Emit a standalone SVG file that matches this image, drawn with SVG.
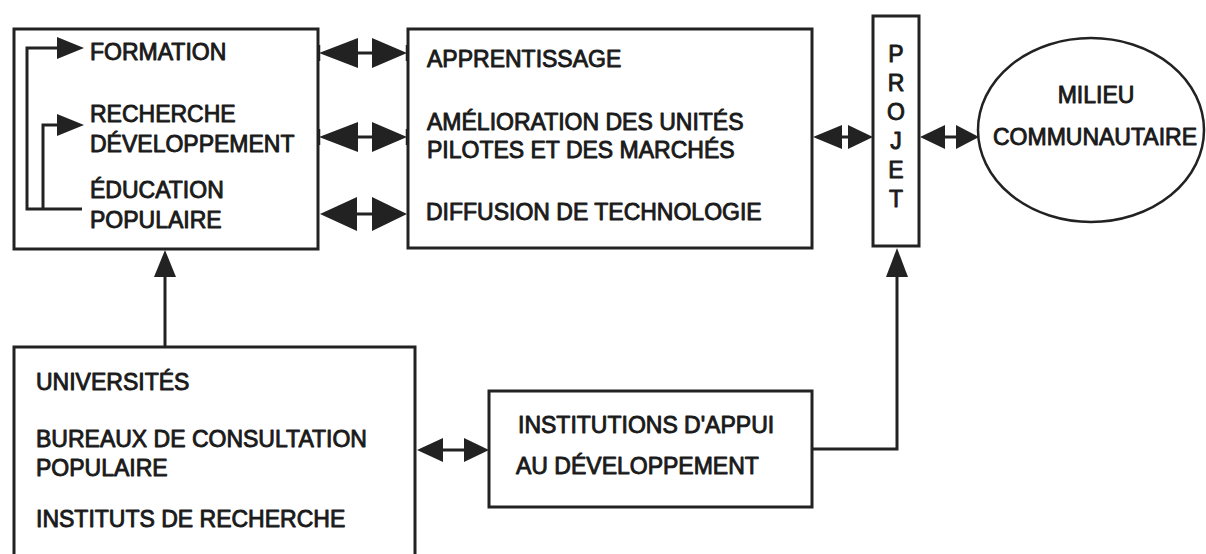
<svg xmlns="http://www.w3.org/2000/svg" width="1206" height="554" viewBox="0 0 1206 554">
<style>
.box{fill:#fff;stroke:#222;stroke-width:3}
.ell{fill:#fff;stroke:#222;stroke-width:2.5}
.ln{fill:none;stroke:#222;stroke-width:3}
.ah{fill:#222;stroke:none}
.tk{stroke:#222;stroke-width:2.5}
text{font-family:"Liberation Sans",Arial,Helvetica,sans-serif;font-size:23px;fill:#1a1a1a;stroke:#1a1a1a;stroke-width:0.9;stroke-linejoin:round}
.c{text-anchor:middle}
</style>
<rect width="1206" height="554" fill="#fff"/>
<g id="activites">
<rect class="box" x="14" y="29" width="304" height="220"/>
<text x="90" y="60">FORMATION</text>
<text x="90" y="122">RECHERCHE</text>
<text x="90" y="152">DÉVELOPPEMENT</text>
<text x="90" y="198">ÉDUCATION</text>
<text x="90" y="228">POPULAIRE</text>
</g>
<g id="resultats">
<rect class="box" x="408" y="29" width="404" height="219"/>
<text x="427" y="67">APPRENTISSAGE</text>
<text x="427" y="130">AMÉLIORATION DES UNITÉS</text>
<text x="427" y="158">PILOTES ET DES MARCHÉS</text>
<text x="426" y="220">DIFFUSION DE TECHNOLOGIE</text>
</g>
<g id="projet">
<rect class="box" x="873" y="16" width="46" height="230"/>
<text class="c" x="896" y="62">P</text>
<text class="c" x="896" y="91">R</text>
<text class="c" x="896" y="120">O</text>
<text class="c" x="896" y="149">J</text>
<text class="c" x="896" y="178">E</text>
<text class="c" x="896" y="207">T</text>
</g>
<g id="milieu">
<ellipse class="ell" cx="1091" cy="130" rx="113" ry="92"/>
<text class="c" x="1096" y="103">MILIEU</text>
<text class="c" x="1095" y="145">COMMUNAUTAIRE</text>
</g>
<g id="sources">
<rect class="box" x="14" y="347" width="401" height="220"/>
<text x="36" y="390">UNIVERSITÉS</text>
<text x="36" y="447">BUREAUX DE CONSULTATION</text>
<text x="36" y="476">POPULAIRE</text>
<text x="36" y="527">INSTITUTS DE RECHERCHE</text>
</g>
<g id="institutions">
<rect class="box" x="489" y="391" width="323" height="116"/>
<text x="518" y="433">INSTITUTIONS D'APPUI</text>
<text x="516" y="474">AU DÉVELOPPEMENT</text>
</g>
<g id="connectors">
<polyline class="ln" points="82,209 27,209 27,48 60,48"/>
<polygon class="ah" points="84,48 57,37 57,59"/>
<polyline class="ln" points="43,209 43,125 60,125"/>
<polygon class="ah" points="84,125 57,114 57,136"/>
<line class="ln" x1="350" y1="53" x2="380" y2="53"/>
<polygon class="ah" points="319,53 358,38 358,68"/>
<polygon class="ah" points="407,53 372,38 372,68"/>
<line class="tk" x1="319" y1="45" x2="319" y2="61"/>
<line class="tk" x1="407" y1="45" x2="407" y2="61"/>
<line class="ln" x1="350" y1="137" x2="380" y2="137"/>
<polygon class="ah" points="319,137 358,122 358,152"/>
<polygon class="ah" points="407,137 372,122 372,152"/>
<line class="tk" x1="319" y1="129" x2="319" y2="145"/>
<line class="tk" x1="407" y1="129" x2="407" y2="145"/>
<line class="ln" x1="350" y1="214" x2="380" y2="214"/>
<polygon class="ah" points="320,214 357,197 357,231"/>
<polygon class="ah" points="407,214 372,197 372,231"/>
<line class="ln" x1="835" y1="137" x2="855" y2="137"/>
<polygon class="ah" points="813,137 842,125 842,149"/>
<polygon class="ah" points="873,137 848,125 848,149"/>
<line class="ln" x1="940" y1="137" x2="962" y2="137"/>
<polygon class="ah" points="920,137 945,125 945,149"/>
<polygon class="ah" points="979,137 956,125 956,149"/>
<line class="ln" x1="165" y1="347" x2="165" y2="272"/>
<polygon class="ah" points="165,250 154,277 176,277"/>
<line class="ln" x1="436" y1="450" x2="470" y2="450"/>
<polygon class="ah" points="417,450 443,438 443,462"/>
<polygon class="ah" points="489,450 464,438 464,462"/>
<polyline class="ln" points="812,449 897,449 897,272"/>
<polygon class="ah" points="897,248 886,277 908,277"/>
</g>
</svg>
